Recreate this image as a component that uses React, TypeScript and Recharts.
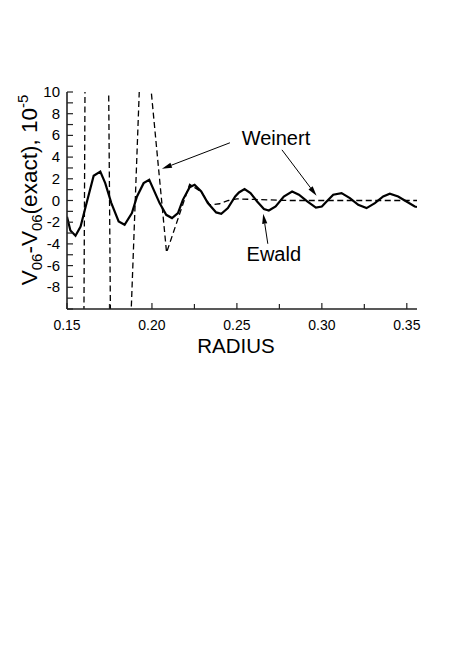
import React from 'react';
import { LineChart, Line, XAxis, YAxis, ReferenceLine, ReferenceDot } from 'recharts';

const FONT = '"Liberation Sans", Arial, Helvetica, sans-serif';

// Ewald (solid): radius, V06 - V06(exact) in 1e-5
const ewaldR = [
  0.15, 0.152, 0.155, 0.158, 0.161, 0.1657, 0.1696, 0.1725, 0.1761, 0.1804, 0.1839, 0.1882,
  0.1912, 0.1951, 0.1984, 0.2045, 0.2084, 0.2118, 0.2153, 0.2182, 0.2222, 0.2251, 0.229,
  0.2329, 0.2378, 0.2408, 0.2447, 0.249, 0.2512, 0.2545, 0.258, 0.2619, 0.2659, 0.2688,
  0.2728, 0.2776, 0.2825, 0.2865, 0.2914, 0.2965, 0.3, 0.3028, 0.3067, 0.3116, 0.3165,
  0.3214, 0.3263, 0.3312, 0.3361, 0.34, 0.3449, 0.3498, 0.3547, 0.356,
];
const ewaldV = [
  -1.5, -2.76, -3.25, -2.4, -0.55, 2.28, 2.67, 1.6, -0.24, -1.93, -2.24, -1.16,
  0.37, 1.6, 1.9, -0.24, -1.32, -1.62, -1.16, 0.06, 1.23, 1.45, 0.83,
  -0.24, -1.1, -1.23, -0.7, 0.37, 0.74, 1.05, 0.68, -0.09, -0.79, -0.92,
  -0.55, 0.37, 0.83, 0.53, -0.09, -0.65, -0.55, -0.09, 0.53, 0.68, 0.22,
  -0.4, -0.7, -0.24, 0.37, 0.62, 0.37, -0.09, -0.55, -0.6,
];

// Weinert (dashed), goes far off scale at small radius
const weinertR = [
  0.15, 0.1658, 0.1777, 0.1945, 0.2086, 0.2222, 0.229, 0.234, 0.2398, 0.245, 0.25, 0.26,
  0.27, 0.28, 0.3, 0.33, 0.356,
];
const weinertV = [
  -343, 184, -53, 18.4, -4.8, 1.5, 0.8, -0.4, -0.3, 0.0, 0.15, 0.1,
  0.05, 0.0, 0.0, 0.0, 0.0,
];

const xTicks = [0.15, 0.175, 0.2, 0.225, 0.25, 0.275, 0.3, 0.325, 0.35];
const xLabels = [0.15, 0.2, 0.25, 0.3, 0.35];
const yTicks = [-10, -9, -8, -7, -6, -5, -4, -3, -2, -1, 0, 1, 2, 3, 4, 5, 6, 7, 8, 9, 10];
const yLabels = [10, 8, 6, 4, 2, 0, -2, -4, -6, -8];

const ewaldData = ewaldR.map((r, i) => ({ r, v: ewaldV[i] }));
const weinertData = weinertR.map((r, i) => ({ r, v: weinertV[i] }));

const AXIS = '#222';

const isXLabel = (v: number) => xLabels.some((l) => Math.abs(l - v) < 1e-6);

const BottomTick = (props: any) => {
  const { x, y, payload } = props;
  const major = isXLabel(payload.value);
  return (
    <g>
      <line x1={x} x2={x} y1={y} y2={y - (major ? 6 : 5)} stroke={AXIS} strokeWidth={1.2} />
      {major && (
        <text x={x} y={y + 21} textAnchor="middle" fontSize={14} fontFamily={FONT} fill="#000">
          {payload.value.toFixed(2)}
        </text>
      )}
    </g>
  );
};

const TopTick = (props: any) => {
  const { x, y, payload } = props;
  const major = isXLabel(payload.value);
  return <line x1={x} x2={x} y1={y} y2={y + (major ? 6 : 5)} stroke={AXIS} strokeWidth={1.2} />;
};

const LeftTick = (props: any) => {
  const { x, y, payload } = props;
  const show = yLabels.includes(payload.value);
  return (
    <g>
      <line x1={x} x2={x + 6} y1={y} y2={y} stroke={AXIS} strokeWidth={1.2} />
      {show && (
        <text x={x - 7} y={y + 5} textAnchor="end" fontSize={15} fontFamily={FONT} fill="#000">
          {payload.value}
        </text>
      )}
    </g>
  );
};

const RightTick = (props: any) => {
  const { x, y } = props;
  return <line x1={x} x2={x - 7} y1={y} y2={y} stroke={AXIS} strokeWidth={1.2} />;
};

const Arrow = (props: any) => {
  const { x1, y1, x2, y2 } = props;
  const dx = x2 - x1;
  const dy = y2 - y1;
  const len = Math.sqrt(dx * dx + dy * dy) || 1;
  const ux = dx / len;
  const uy = dy / len;
  const hl = 10;
  const hw = 2.6;
  const bx = x2 - ux * hl;
  const by = y2 - uy * hl;
  const pts = `${x2},${y2} ${bx - uy * hw},${by + ux * hw} ${bx + uy * hw},${by - ux * hw}`;
  return (
    <g>
      <line x1={x1} y1={y1} x2={bx} y2={by} stroke="#000" strokeWidth={1} />
      <polygon points={pts} fill="#000" />
    </g>
  );
};

const labelShape = (text: string) => (props: any) => (
  <text x={props.cx} y={props.cy} fontSize={20} fontFamily={FONT} fill="#000">
    {text}
  </text>
);

const YTitle = () => {
  const cx = 29;
  const cy = 182;
  return (
    <text
      x={cx}
      y={cy}
      transform={`rotate(-90 ${cx} ${cy})`}
      textAnchor="middle"
      fontSize={22.5}
      fontFamily={FONT}
      fill="#000"
    >
      V<tspan fontSize={15} dy={5}>06</tspan>
      <tspan dy={-5}>-V</tspan>
      <tspan fontSize={15} dy={5}>06</tspan>
      <tspan dy={-5}>(exact), 10</tspan>
      <tspan fontSize={15} dy={-9}>-5</tspan>
    </text>
  );
};

const XTitle = () => (
  <text x={228} y={345} textAnchor="middle" fontSize={20.5} fontFamily={FONT} fill="#000">
    RADIUS
  </text>
);

export default function App() {
  return (
    <div style={{ width: 440, height: 400 }}>
      <LineChart width={440} height={400} margin={{ top: 84, right: 31, bottom: 59, left: 0 }}>
        <XAxis
          xAxisId="b"
          dataKey="r"
          type="number"
          domain={[0.15, 0.356]}
          allowDataOverflow
          ticks={xTicks}
          interval={0}
          tickLine={false}
          tickSize={0}
          tickMargin={0}
          tick={<BottomTick />}
          height={40}
          axisLine={{ stroke: AXIS, strokeWidth: 1.6 }}
          label={<XTitle />}
        />
        <XAxis
          xAxisId="t"
          orientation="top"
          dataKey="r"
          type="number"
          domain={[0.15, 0.356]}
          allowDataOverflow
          ticks={xTicks}
          interval={0}
          tickLine={false}
          tickSize={0}
          tickMargin={0}
          tick={<TopTick />}
          height={0}
          axisLine={{ stroke: AXIS, strokeWidth: 1.6 }}
        />
        <YAxis
          yAxisId="l"
          type="number"
          domain={[-10, 10]}
          allowDataOverflow
          ticks={yTicks}
          interval={0}
          tickLine={false}
          tickSize={0}
          tickMargin={0}
          tick={<LeftTick />}
          width={59}
          axisLine={{ stroke: AXIS, strokeWidth: 1.6 }}
          label={<YTitle />}
        />
        <YAxis
          yAxisId="r"
          orientation="right"
          type="number"
          domain={[-10, 10]}
          allowDataOverflow
          ticks={yTicks}
          interval={0}
          tickLine={false}
          tickSize={0}
          tickMargin={0}
          tick={<RightTick />}
          width={0}
          axisLine={{ stroke: AXIS, strokeWidth: 1.6 }}
        />
        <Line
          xAxisId="b"
          yAxisId="l"
          data={weinertData}
          dataKey="v"
          type="linear"
          stroke="#000"
          strokeWidth={1.3}
          strokeDasharray="6 3.5"
          dot={false}
          activeDot={false}
          isAnimationActive={false}
        />
        <Line
          xAxisId="b"
          yAxisId="l"
          data={ewaldData}
          dataKey="v"
          type="linear"
          stroke="#000"
          strokeWidth={2.2}
          dot={false}
          activeDot={false}
          isAnimationActive={false}
        />
        <ReferenceLine
          xAxisId="b"
          yAxisId="l"
          segment={[{ x: 0.2459, y: 5.32 }, { x: 0.2059, y: 2.92 }]}
          shape={Arrow}
        />
        <ReferenceLine
          xAxisId="b"
          yAxisId="l"
          segment={[{ x: 0.2765, y: 4.67 }, { x: 0.2969, y: 0.43 }]}
          shape={Arrow}
        />
        <ReferenceLine
          xAxisId="b"
          yAxisId="l"
          segment={[{ x: 0.2682, y: -3.99 }, { x: 0.2655, y: -1.23 }]}
          shape={Arrow}
        />
        <ReferenceDot xAxisId="b" yAxisId="l" x={0.2528} y={5.13} r={0} shape={labelShape('Weinert')} />
        <ReferenceDot xAxisId="b" yAxisId="l" x={0.2557} y={-5.56} r={0} shape={labelShape('Ewald')} />
      </LineChart>
    </div>
  );
}
